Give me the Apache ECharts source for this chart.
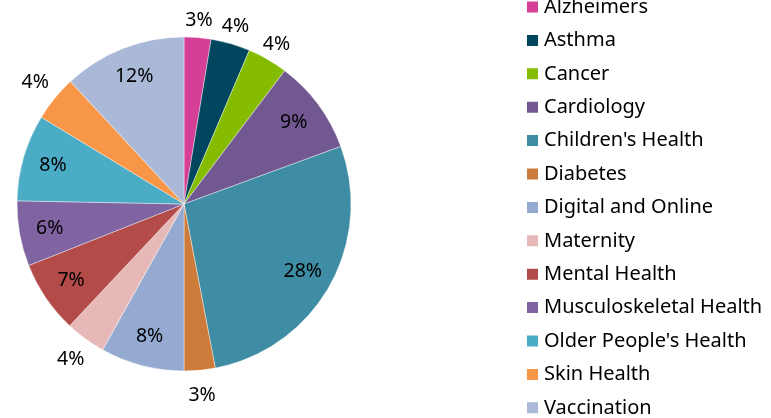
<!DOCTYPE html>
<html>
<head>
<meta charset="utf-8">
<script src="https://cdn.jsdelivr.net/npm/echarts@6/dist/echarts.min.js"></script>
<style>
  html, body { margin: 0; padding: 0; background: #fff; }
  #chart { width: 771px; height: 418px; }
</style>
</head>
<body>
<div id="chart"></div>
<script>
// 数据:读自原图(百分比,总和 100)
var categories = ['Alzheimers', 'Asthma', 'Cancer', 'Cardiology', "Children's Health",
  'Diabetes', 'Digital and Online', 'Maternity', 'Mental Health',
  'Musculoskeletal Health', "Older People's Health", 'Skin Health', 'Vaccination'];
var values = [2.6, 3.8, 3.9, 9.1, 27.6, 3.0, 8.1, 3.9, 7.0, 6.3, 8.4, 4.4, 11.9];
var colors = ['#D63F96', '#00465E', '#86BC00', '#715890', '#3E8DA4', '#CD7B3A',
  '#95AAD1', '#E6B9B8', '#B34B49', '#8064A2', '#4BACC6', '#F79646', '#AAB9D7'];
// 标签在扇形外侧的类别(顶部三个离得近一些)
var outsideTop = ['Alzheimers', 'Asthma', 'Cancer'];
var outsideOther = ['Diabetes', 'Maternity', 'Skin Health'];

var FONT = '"Noto Sans", "Open Sans", sans-serif';
var CX = 184, CY = 204, R = 167;

function labelData(test) {
  return categories.map(function (c, i) {
    return {
      name: c, value: values[i],
      itemStyle: { color: 'rgba(0,0,0,0)' },
      label: { show: test(c) }
    };
  });
}

var labelStyle = {
  position: 'inside',
  color: '#000',
  fontFamily: FONT,
  fontSize: 19.5,
  formatter: function (p) { return Math.round(p.value) + '%'; }
};

function labelRing(radius, test) {
  return {
    type: 'pie',
    center: [CX, CY], radius: radius,
    startAngle: 90, clockwise: true,
    silent: true, legendHoverLink: false,
    label: labelStyle, labelLine: { show: false },
    data: labelData(test)
  };
}

var chart = echarts.init(document.getElementById('chart'));
chart.setOption({
  animation: false,
  color: colors,
  legend: {
    orient: 'vertical',
    left: 525, top: -3,
    padding: 0,
    itemWidth: 13, itemHeight: 13,
    itemGap: 13.4,
    icon: 'rect',
    selectedMode: false,
    textStyle: { fontFamily: FONT, fontSize: 20, color: '#000', lineHeight: 20 },
    data: categories
  },
  series: [
    {
      type: 'pie',
      center: [CX, CY], radius: [0, R],
      startAngle: 90, clockwise: true,
      silent: true,
      label: { show: false }, labelLine: { show: false },
      itemStyle: { borderColor: '#fff', borderWidth: 0.4 },
      data: categories.map(function (c, i) { return { name: c, value: values[i] }; })
    },
    labelRing([100, R], function (c) {
      return outsideTop.indexOf(c) === -1 && outsideOther.indexOf(c) === -1;
    }),
    labelRing([R, 196], function (c) { return outsideTop.indexOf(c) !== -1; }),
    labelRing([R, 211], function (c) { return outsideOther.indexOf(c) !== -1; })
  ]
});
</script>
</body>
</html>
